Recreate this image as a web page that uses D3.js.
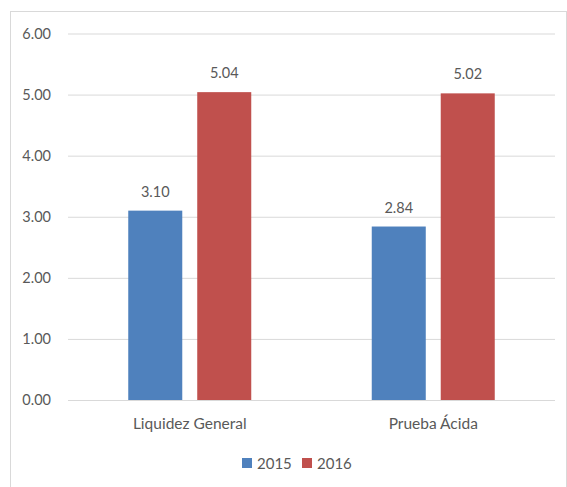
<!DOCTYPE html>
<html>
<head>
<meta charset="utf-8">
<script src="https://cdn.jsdelivr.net/npm/d3@7"></script>
<style>
  body { margin: 0; background: #fff; }
  .grid line { stroke: #d9d9d9; stroke-width: 1px; }
  .grid path { display: none; }
  text { font-family: Lato, "Open Sans", sans-serif; fill: #595959; }
</style>
</head>
<body>
<div id="chart"></div>
<script>
// data
var categories = ["Liquidez General", "Prueba Ácida"];
var series = ["2015", "2016"];
var values2015 = [3.10, 2.84];
var values2016 = [5.04, 5.02];
var y_ticks = [0, 1, 2, 3, 4, 5, 6];
var colors = ["#4f81bd", "#c0504d"];

var svg_width = 567, svg_height = 487;

var svg = d3.select("#chart").append("svg")
    .attr("width", svg_width)
    .attr("height", svg_height);

// chart frame (bottom and right are off the picture)
svg.append("rect")
    .attr("x", 10.5)
    .attr("y", 11.5)
    .attr("width", 556)
    .attr("height", 500)
    .attr("fill", "none")
    .attr("stroke", "#d9d9d9");

var plot_left = 68, plot_right = 555, plot_top = 33.5, plot_bottom = 400;

var yScale = d3.scaleLinear().domain([0, 6]).range([plot_bottom, plot_top]);

var x0 = d3.scaleBand().domain(categories).range([plot_left, plot_right]);
var groupWidth = 123;
var x1 = d3.scaleBand().domain(series).range([0, groupWidth]).paddingInner(0.217);
var groupOffset = (x0.bandwidth() - groupWidth) / 2;

// gridlines
svg.append("g")
    .attr("class", "grid")
    .attr("transform", "translate(" + plot_left + ",0)")
    .call(d3.axisLeft(yScale).tickValues(y_ticks).tickSize(-(plot_right - plot_left)).tickFormat(""));

// y tick labels
svg.append("g")
    .selectAll("text")
    .data(y_ticks)
    .enter().append("text")
    .attr("x", 51)
    .attr("y", function(d) { return yScale(d); })
    .attr("dy", "0.35em")
    .attr("text-anchor", "end")
    .attr("font-size", "14.5px")
    .text(function(d) { return d3.format(".2f")(d); });

var rows = categories.map(function(c, i) {
    return { cat: c, vals: [
        { s: "2015", v: values2015[i] },
        { s: "2016", v: values2016[i] }
    ] };
});

var groups = svg.selectAll(".group")
    .data(rows)
    .enter().append("g")
    .attr("class", "group")
    .attr("transform", function(d) { return "translate(" + (x0(d.cat) + groupOffset) + ",0)"; });

groups.selectAll("rect")
    .data(function(d) { return d.vals; })
    .enter().append("rect")
    .attr("x", function(d) { return x1(d.s); })
    .attr("y", function(d) { return yScale(d.v); })
    .attr("width", x1.bandwidth())
    .attr("height", function(d) { return plot_bottom - yScale(d.v); })
    .attr("fill", function(d, i) { return colors[i]; });

groups.selectAll(".val")
    .data(function(d) { return d.vals; })
    .enter().append("text")
    .attr("class", "val")
    .attr("x", function(d) { return x1(d.s) + x1.bandwidth() / 2; })
    .attr("y", function(d) { return yScale(d.v) - 14; })
    .attr("text-anchor", "middle")
    .attr("font-size", "14.5px")
    .text(function(d) { return d3.format(".2f")(d.v); });

// category labels
svg.append("g")
    .selectAll("text")
    .data(categories)
    .enter().append("text")
    .attr("x", function(d) { return x0(d) + x0.bandwidth() / 2; })
    .attr("y", 429)
    .attr("text-anchor", "middle")
    .attr("font-size", "15.5px")
    .text(function(d) { return d; });

// legend
var legend = svg.append("g").attr("transform", "translate(242,458)");
var legendItems = legend.selectAll("g")
    .data(series)
    .enter().append("g")
    .attr("transform", function(d, i) { return "translate(" + (i * 60) + ",0)"; });
legendItems.append("rect")
    .attr("width", 10)
    .attr("height", 10)
    .attr("fill", function(d, i) { return colors[i]; });
legendItems.append("text")
    .attr("x", 15)
    .attr("y", 10.5)
    .attr("font-size", "15px")
    .text(function(d) { return d; });
</script>
</body>
</html>
